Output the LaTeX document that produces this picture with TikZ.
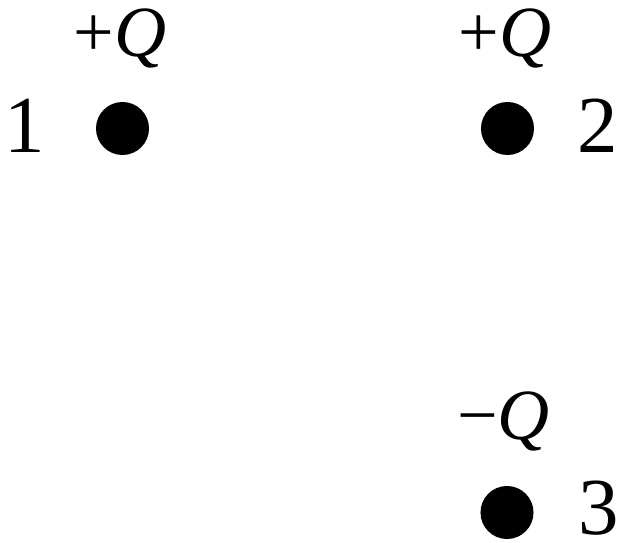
\documentclass[tikz,border=0pt]{standalone}
\usepackage{fontspec}
\setmainfont{Liberation Serif}

\begin{document}
\begin{tikzpicture}[x=0.01cm,y=-0.01cm]
\tikzset{chargedot/.style={circle,fill=black,inner sep=0pt,minimum size=0.53cm},
  chargelbl/.style={font=\fontsize{20.5}{21}\selectfont,anchor=base,inner sep=0pt},
  numlbl/.style={font=\fontsize{23}{23}\selectfont,anchor=base,inner sep=0pt}}
\useasboundingbox (0,0) rectangle (621,543);
\node[chargedot] (q1) at (122.5,128.5) {};
\node[chargedot] (q2) at (507.5,128.5) {};
\node[chargedot] (q3) at (507,512.5) {};
\node[numlbl] (n1) at (24.5,153) {1};
\node[numlbl] (n2) at (598,153) {2};
\node[numlbl] (n3) at (598.5,535) {3};
\node[chargelbl] (c1) at (120,57) {+\textit{Q}};
\node[chargelbl] (c2) at (505,57) {+\textit{Q}};
\node[chargelbl] (c3) at (503.5,440) {−\textit{Q}};
\end{tikzpicture}
\end{document}
